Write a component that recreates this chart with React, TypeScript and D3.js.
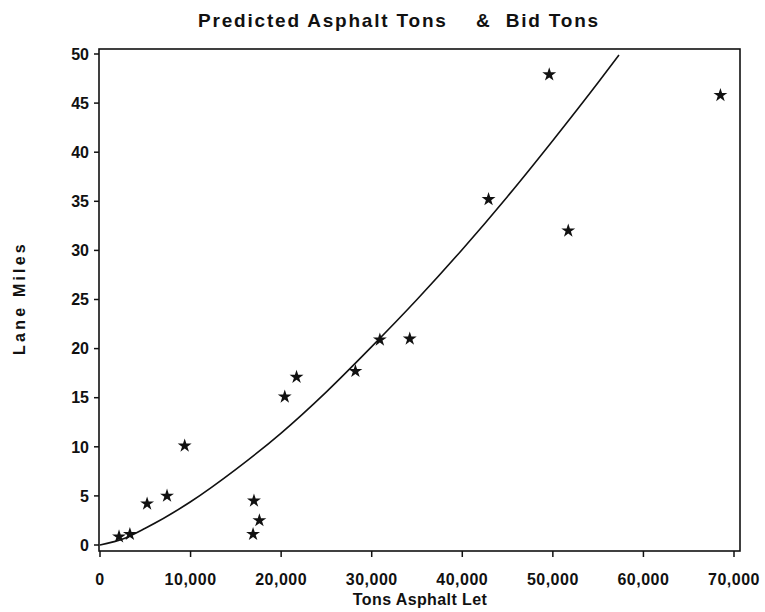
import React from 'react'
import * as d3 from 'd3'

// bid points (tons asphalt let, lane miles)
const bidTons = [2100, 3300, 5200, 7400, 9350, 16900, 17000, 17600, 20400, 21700, 28200, 30900, 34200, 42900, 49600, 51700, 68500]
const laneMiles = [0.85, 1.1, 4.2, 5.0, 10.1, 1.1, 4.5, 2.5, 15.1, 17.1, 17.7, 20.9, 21.0, 35.2, 47.9, 32.0, 45.8]

// predicted curve
const predTons = [0, 2500, 5000, 10000, 15000, 20000, 25000, 30000, 35000, 40000, 45000, 50000, 55000, 57300]
const predMiles = [0, 0.6, 1.7, 4.4, 7.7, 11.4, 15.6, 20.2, 25.0, 30.1, 35.5, 41.2, 47.1, 49.9]

const xTicks = [0, 10000, 20000, 30000, 40000, 50000, 60000, 70000]
const yTicks = [0, 5, 10, 15, 20, 25, 30, 35, 40, 45, 50]

const W = 765
const H = 612
const frame = { left: 99, right: 740, top: 49, bottom: 551 }
const font = '"Liberation Sans", Arial, sans-serif'

export default function App() {
    const x = d3.scaleLinear().domain([0, 70000]).range([100, 734])
    const y = d3.scaleLinear().domain([0, 50]).range([545, 54])

    const line = d3.line<number>()
        .x((d, i) => x(predTons[i]))
        .y((d) => y(d))
        .curve(d3.curveMonotoneX)

    const star = d3.symbol().type(d3.symbolStar).size(60)()
    const fmt = d3.format(',')

    return (
        <svg width={W} height={H} style={{ position: 'absolute', left: 0, top: 0 }}>
            <rect width={W} height={H} fill="#fff" />
            <text x={399} y={27} textAnchor="middle" fontFamily={font} fontSize={19} fontWeight="bold"
                letterSpacing={1.8} fill="#111" style={{ whiteSpace: 'pre' }}>
                {'Predicted Asphalt Tons    &  Bid Tons'}
            </text>

            {/* frame */}
            <rect x={frame.left} y={frame.top} width={frame.right - frame.left} height={frame.bottom - frame.top}
                fill="none" stroke="#111" strokeWidth={1.6} />

            {/* y axis */}
            {yTicks.map((t) => (
                <g key={'y' + t}>
                    <line x1={94} x2={frame.left} y1={y(t)} y2={y(t)} stroke="#111" strokeWidth={1.5} />
                    <text x={89} y={y(t)} dy="0.36em" textAnchor="end" fontFamily={font} fontSize={16}
                        fontWeight="bold" fill="#111">{t}</text>
                </g>
            ))}

            {/* x axis */}
            {xTicks.map((t) => (
                <g key={'x' + t}>
                    <line x1={x(t)} x2={x(t)} y1={frame.bottom} y2={frame.bottom + 6} stroke="#111" strokeWidth={1.5} />
                    <text x={x(t)} y={585} textAnchor="middle" fontFamily={font} fontSize={16}
                        fontWeight="bold" letterSpacing={0.5} fill="#111">{fmt(t)}</text>
                </g>
            ))}

            <text x={420} y={605} textAnchor="middle" fontFamily={font} fontSize={16} fontWeight="bold"
                letterSpacing={0.4} fill="#111">Tons Asphalt Let</text>
            <text transform="translate(25,298) rotate(-90)" textAnchor="middle" fontFamily={font} fontSize={16}
                fontWeight="bold" letterSpacing={3.2} fill="#111">Lane Miles</text>

            <path d={line(predMiles) || ''} fill="none" stroke="#111" strokeWidth={1.6} />

            {bidTons.map((t, i) => (
                <path key={i} d={star} transform={`translate(${x(t)},${y(laneMiles[i])})`} fill="#111" />
            ))}
        </svg>
    )
}
